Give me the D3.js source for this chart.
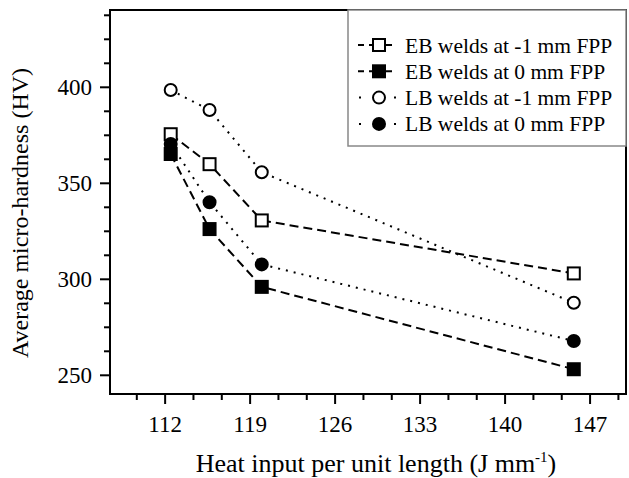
<!DOCTYPE html>
<meta charset="utf-8">
<script src="https://d3js.org/d3.v7.min.js"></script>
<style>
  body { margin: 0; background: #fff; }
  text { font-family: "Liberation Serif", "Times New Roman", serif; fill: #000; }
</style>
<div id="my_dataviz"></div>
<script>

  // data
  var heatInput = [112.5, 115.7, 120.0, 145.7];
  var ebMinus1 = [375.3, 359.7, 330.4, 302.8];
  var ebZero = [365.0, 325.9, 295.8, 252.9];
  var lbMinus1 = [398.3, 387.9, 355.5, 287.5];
  var lbZero = [370.2, 339.9, 307.5, 267.6];
  var xTicks = [112, 119, 126, 133, 140, 147];
  var yTicks = [250, 300, 350, 400];
  var seriesNames = ["EB welds at -1 mm FPP", "EB welds at 0 mm FPP",
    "LB welds at -1 mm FPP", "LB welds at 0 mm FPP"];

  var series = [
    { name: seriesNames[0], values: ebMinus1, shape: "square", filled: false, dash: "9,5" },
    { name: seriesNames[1], values: ebZero, shape: "square", filled: true, dash: "9,5" },
    { name: seriesNames[2], values: lbMinus1, shape: "circle", filled: false, dash: "2,6" },
    { name: seriesNames[3], values: lbZero, shape: "circle", filled: true, dash: "2,6" }
  ];

  // set the dimensions and margins of the graph
  var margin = { top: 10, right: 3, bottom: 84, left: 110 },
    width = 629 - margin.left - margin.right,
    height = 478 - margin.top - margin.bottom;

  var svg = d3.select("#my_dataviz")
    .append("svg")
    .attr("width", 629)
    .attr("height", 478)
    .append("g")
    .attr("transform", "translate(" + margin.left + "," + margin.top + ")");

  var x = d3.scaleLinear().domain([107.5, 150]).range([0, width]);
  var y = d3.scaleLinear().domain([240, 440]).range([height, 0]);

  // minor ticks
  var xMinor = d3.range(109 + 2 / 3, 150, 7 / 3).filter(function (v) {
    return xTicks.every(function (t) { return Math.abs(t - v) > 0.1; });
  });
  var yMinor = d3.range(250, 440, 12.5).filter(function (v) { return v % 50 !== 0; });

  svg.append("g")
    .attr("transform", "translate(0," + height + ")")
    .call(d3.axisBottom(x).tickValues(xMinor).tickSize(6).tickFormat(""))
    .call(function (g) { g.select(".domain").remove(); g.selectAll("line").attr("stroke-width", 2); });
  svg.append("g")
    .call(d3.axisLeft(y).tickValues(yMinor).tickSize(6).tickFormat(""))
    .call(function (g) { g.select(".domain").remove(); g.selectAll("line").attr("stroke-width", 2); });

  // major ticks
  svg.append("g")
    .attr("transform", "translate(0," + height + ")")
    .call(d3.axisBottom(x).tickValues(xTicks).tickSize(10).tickPadding(12))
    .call(function (g) {
      g.select(".domain").remove();
      g.selectAll("line").attr("stroke-width", 2);
      g.selectAll("text").style("font-size", "23px").attr("font-family", null);
    });
  svg.append("g")
    .call(d3.axisLeft(y).tickValues(yTicks).tickSize(10).tickPadding(8))
    .call(function (g) {
      g.select(".domain").remove();
      g.selectAll("line").attr("stroke-width", 2);
      g.selectAll("text").style("font-size", "23px").attr("font-family", null);
    });

  // frame
  svg.append("rect")
    .attr("width", width)
    .attr("height", height)
    .attr("fill", "none")
    .attr("stroke", "#000")
    .attr("stroke-width", 2);

  // axis titles
  var xTitle = svg.append("text")
    .attr("x", 266)
    .attr("y", 462)
    .attr("text-anchor", "middle")
    .style("font-size", "26px");
  xTitle.append("tspan").text("Heat input per unit length (J mm");
  xTitle.append("tspan").attr("dy", -10).style("font-size", "15px").text("-1");
  xTitle.append("tspan").attr("dy", 10).text(")");

  svg.append("text")
    .attr("transform", "translate(-82," + 203 + ") rotate(-90)")
    .attr("text-anchor", "middle")
    .style("font-size", "24px")
    .text("Average micro-hardness (HV)");

  function drawMarker(g, s, cx, cy, size) {
    if (s.shape === "square") {
      g.append("rect")
        .attr("x", cx - size / 2).attr("y", cy - size / 2)
        .attr("width", size).attr("height", size)
        .attr("fill", s.filled ? "#000" : "#fff")
        .attr("stroke", "#000").attr("stroke-width", 2);
    } else {
      g.append("circle")
        .attr("cx", cx).attr("cy", cy).attr("r", size / 2)
        .attr("fill", s.filled ? "#000" : "#fff")
        .attr("stroke", "#000").attr("stroke-width", 2);
    }
  }

  var line = d3.line()
    .x(function (d, i) { return x(heatInput[i]); })
    .y(function (d) { return y(d); });

  series.forEach(function (s) {
    svg.append("path")
      .datum(s.values)
      .attr("fill", "none")
      .attr("stroke", "#000")
      .attr("stroke-width", 2)
      .attr("stroke-dasharray", s.dash)
      .attr("d", line);
  });

  series.forEach(function (s) {
    var g = svg.append("g");
    s.values.forEach(function (v, i) {
      drawMarker(g, s, x(heatInput[i]), y(v), 12);
    });
  });

  // legend
  var legend = svg.append("g").attr("transform", "translate(" + (348 - margin.left) + ",0)");
  legend.append("rect")
    .attr("width", 626 - 348)
    .attr("height", 136)
    .attr("fill", "#fff")
    .attr("stroke", "#888")
    .attr("stroke-width", 1.5);

  series.forEach(function (s, i) {
    var ly = 35 + i * 26.3;
    var row = legend.append("g").attr("transform", "translate(0," + ly + ")");
    if (s.shape === "square") {
      row.append("line").attr("x1", 10).attr("x2", 44)
        .attr("stroke", "#000").attr("stroke-width", 2)
        .attr("stroke-dasharray", "6,5,23");
    } else {
      row.append("line").attr("x1", 11).attr("x2", 48)
        .attr("stroke", "#000").attr("stroke-width", 2)
        .attr("stroke-dasharray", "2,33");
    }
    drawMarker(row, s, 31, 0, 12);
    row.append("text")
      .attr("x", 57)
      .attr("dy", "0.35em")
      .style("font-size", "21.5px")
      .text(s.name);
  });

</script>
